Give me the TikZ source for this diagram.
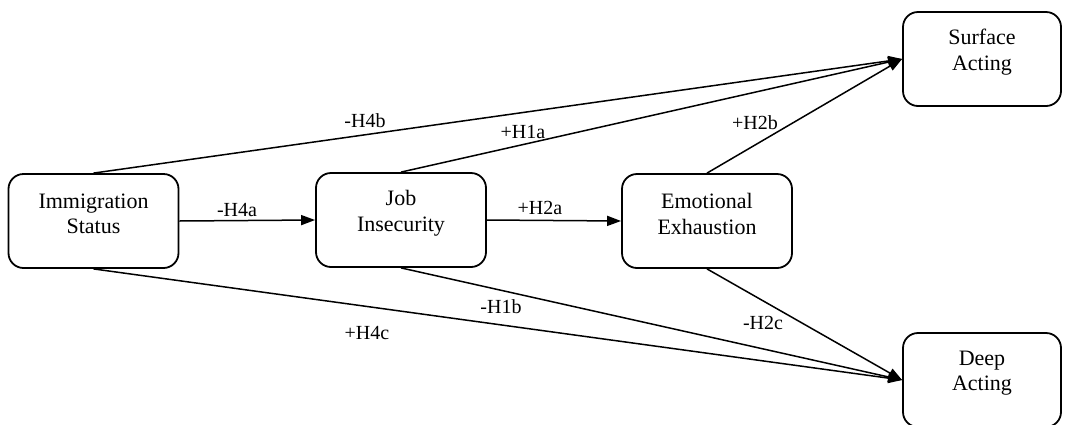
\documentclass[tikz,border=0pt]{standalone}
\usepackage{fontspec}
\setmainfont{Liberation Serif}
\usetikzlibrary{arrows.meta}

\begin{document}
\begin{tikzpicture}[x=0.5pt, y=-0.5pt,
    box/.style={draw, line width=0.9pt, rounded corners=7.5pt,
        minimum width=85pt, minimum height=47pt},
    boxtext/.style={align=center, yshift=3.5pt, font=\fontsize{11}{12.8}\selectfont},
    hyp/.style={font=\fontsize{10}{12}\selectfont},
    path/.style={line width=0.75pt, -{Triangle[length=7pt, width=5pt]}}]
        \useasboundingbox (0,0) rectangle (1067,424);

        % constructs
        \node[box, label={[boxtext]center:Immigration\\Status}] (im) at (93.5,221) {};
        \node[box, label={[boxtext]center:Job\\Insecurity}] (ji) at (401,220) {};
        \node[box, label={[boxtext]center:Emotional\\Exhaustion}] (ee) at (707,221) {};
        \node[box, minimum width=79pt, label={[boxtext]center:Surface\\Acting}] (sa) at (982,59) {};
        \node[box, minimum width=79pt, label={[boxtext]center:Deep\\Acting}] (da) at (982,380) {};

        % main chain
        \draw[path] (im.east) -- (ji.west);
        \draw[path] (ji.east) -- (ee.west);

        % paths to surface acting
        \draw[path] (im.north) -- (sa.west);
        \draw[path] (ji.north) -- (sa.west);
        \draw[path] (ee.north) -- (sa.west);

        % paths to deep acting
        \draw[path] (im.south) -- (da.west);
        \draw[path] (ji.south) -- (da.west);
        \draw[path] (ee.south) -- (da.west);

        % hypotheses
        \node[hyp] (h4a) at (237,210) {-H4a};
        \node[hyp] (h2a) at (540,208) {+H2a};
        \node[hyp] (h4b) at (365,121) {-H4b};
        \node[hyp] (h1a) at (523,132) {+H1a};
        \node[hyp] (h2b) at (755,123) {+H2b};
        \node[hyp] (h1b) at (501,307) {-H1b};
        \node[hyp] (h4c) at (367,333) {+H4c};
        \node[hyp] (h2c) at (763,323) {-H2c};
\end{tikzpicture}
\end{document}
